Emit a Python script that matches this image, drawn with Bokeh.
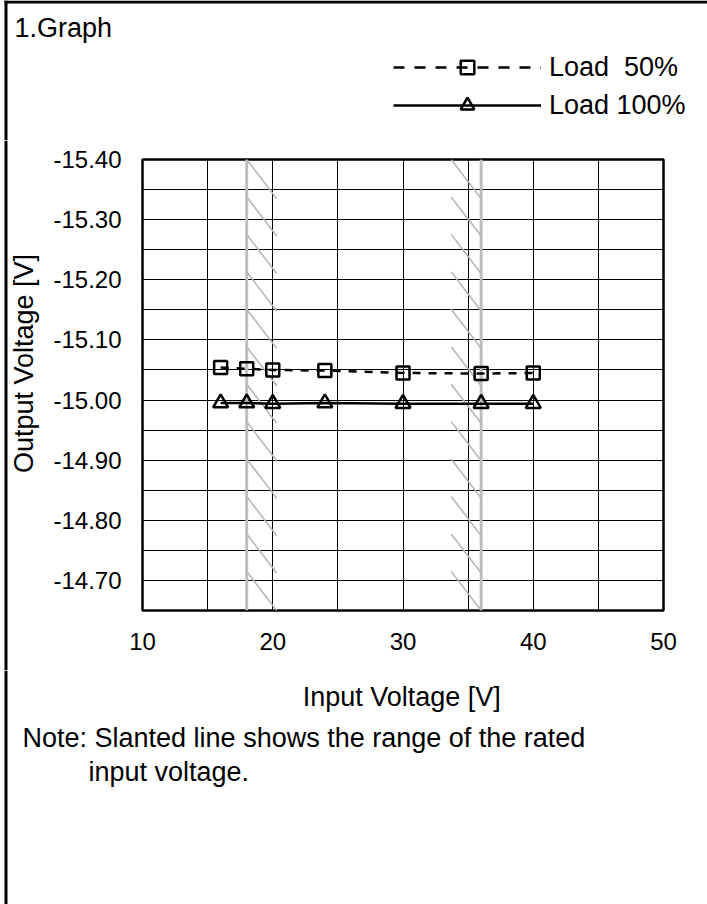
import math
from bokeh.plotting import figure
from bokeh.layouts import column, row
from bokeh.models import (Range1d, FixedTicker, Label, Legend, LegendItem,
                          BoxAnnotation, PrintfTickFormatter)
from bokeh.embed import file_html
from bokeh.resources import INLINE

# ---------------- data ----------------
input_voltage = [16, 18, 20, 24, 30, 36, 40]
load_50 = [-15.054, -15.052, -15.050, -15.049, -15.045, -15.044, -15.045]
load_100 = [-14.995, -14.995, -14.994, -14.995, -14.994, -14.994, -14.994]
x_ticks = [10, 20, 30, 40, 50]
x_grid = [10, 15, 20, 25, 30, 35, 40, 45, 50]
y_ticks = [-15.40, -15.30, -15.20, -15.10, -15.00, -14.90, -14.80, -14.70]
y_grid = [-15.40, -15.35, -15.30, -15.25, -15.20, -15.15, -15.10, -15.05,
          -15.00, -14.95, -14.90, -14.85, -14.80, -14.75, -14.70, -14.65]
rated_range = [18, 36]
series_labels = ["Load  50%", "Load 100%"]

# ---------------- layout constants ----------------
W, H = 707, 904
FONT = "Liberation Sans"
TXT = "27px"
TICK = "24px"
TOP_H = 140          # header band height
MID_H = 530          # band with the plot
BOT_H = H - TOP_H - MID_H
STRIP_W = 42         # left strip holding the y title
FL, FR, FT, FB = 142, 663, 159, 610   # plot frame in page pixels

LINE50 = dict(line_color="black", line_width=2.5, line_dash="8 8")
MARK50 = dict(marker="square", size=13, fill_alpha=0, line_color="black", line_width=2.5)
LINE100 = dict(line_color="black", line_width=2.5)
MARK100 = dict(marker="triangle", size=15, fill_alpha=0, line_color="black", line_width=2.5)


def blank(width, height):
    f = figure(width=width, height=height, output_backend="svg", toolbar_location=None,
               x_axis_location=None, y_axis_location=None, title=None,
               x_range=Range1d(0, 1), y_range=Range1d(0, 1),
               min_border=0, min_border_left=0, min_border_right=0,
               min_border_top=0, min_border_bottom=0)
    f.grid.grid_line_color = None
    f.outline_line_color = None
    f.background_fill_color = "white"
    f.border_fill_color = "white"
    f.frame_align = False
    return f


def box(f, left, right, top, bottom):
    f.add_layout(BoxAnnotation(left=left, right=right, top=top, bottom=bottom,
                               left_units="screen", right_units="screen",
                               top_units="screen", bottom_units="screen",
                               fill_color="black", fill_alpha=1, line_color=None))


def text(f, fx0, fy0, fh, txt, X, Y, align="left", angle=0.0, size=TXT):
    f.add_layout(Label(x=X - fx0, y=fh - (Y - fy0), x_units="screen", y_units="screen",
                       text=txt, text_font=FONT, text_font_size=size,
                       text_align=align, text_baseline="middle", angle=angle,
                       text_color="black"))


# ---------------- header ----------------
top = blank(W, TOP_H)
box(top, 4, 7, TOP_H, 0)
box(top, 4, W, TOP_H, TOP_H - 3)
text(top, 0, 0, TOP_H, "1.Graph", 14, 27)
# legend renderers reuse the series (outside this band's ranges, so only the legend shows)
t50l = top.line(input_voltage, load_50, line_color="black", line_width=2.5, line_dash="11 10")
t50m = top.scatter(input_voltage, load_50, **MARK50)
t100l = top.line(input_voltage, load_100, **LINE100)
t100m = top.scatter(input_voltage, load_100, **MARK100)
legend = Legend(items=[LegendItem(label=series_labels[0], renderers=[t50l, t50m]),
                       LegendItem(label=series_labels[1], renderers=[t100l, t100m])],
                location=(393, TOP_H - 122), orientation="vertical",
                glyph_width=148, glyph_height=34, spacing=4, padding=0, margin=0,
                label_standoff=8, border_line_color=None, background_fill_alpha=0,
                label_text_font=FONT, label_text_font_size=TXT,
                label_text_color="black")
top.add_layout(legend)

# ---------------- left strip ----------------
strip = blank(STRIP_W, MID_H)
box(strip, 4, 7, MID_H, 0)
text(strip, 0, TOP_H, MID_H, "Output Voltage [V]", 23, 363, align="center",
     angle=math.pi / 2)

# ---------------- main plot ----------------
p = figure(width=W - STRIP_W, height=MID_H, output_backend="svg", toolbar_location=None,
           title=None, x_range=Range1d(10, 50), y_range=Range1d(-14.65, -15.40),
           min_border_left=FL - STRIP_W, min_border_right=W - FR,
           min_border_top=FT - TOP_H, min_border_bottom=TOP_H + MID_H - FB)
p.frame_align = False
p.background_fill_color = "white"
p.border_fill_color = "white"
p.outline_line_color = "black"
p.outline_line_width = 2.5

p.xaxis.ticker = FixedTicker(ticks=x_ticks)
p.yaxis.ticker = FixedTicker(ticks=y_ticks)
p.yaxis.formatter = PrintfTickFormatter(format="%.2f")
for ax in (p.xaxis[0], p.yaxis[0]):
    ax.axis_line_color = None
    ax.major_tick_in = 0
    ax.major_tick_out = 0
    ax.minor_tick_in = 0
    ax.minor_tick_out = 0
    ax.major_label_text_font = FONT
    ax.major_label_text_font_size = TICK
    ax.major_label_text_color = "black"
p.xaxis.major_label_standoff = 22
p.yaxis.major_label_standoff = 21

p.xgrid.ticker = FixedTicker(ticks=x_grid)
p.ygrid.ticker = FixedTicker(ticks=y_grid)
for g in (p.xgrid[0], p.ygrid[0]):
    g.grid_line_color = "black"
    g.grid_line_width = 1
    g.grid_line_alpha = 1.0

# rated input range: gray verticals and slanted hatch
ytop, ybot = -15.40, -14.65
p.segment(x0=rated_range, y0=[ytop] * 2, x1=rated_range, y1=[ybot] * 2,
          line_color="#bdbdbd", line_width=3)
n_seg = 12
seg_h = 0.065
step = (ybot - ytop - seg_h) / (n_seg - 1)
seg_dx = 2.3
hx0, hy0, hx1, hy1 = [], [], [], []
for k in range(n_seg):
    ys = ytop + k * step
    for x0, x1 in ((rated_range[0], rated_range[0] + seg_dx),
                   (rated_range[1] - seg_dx, rated_range[1])):
        hx0.append(x0); hy0.append(ys); hx1.append(x1); hy1.append(ys + seg_h)
p.segment(x0=hx0, y0=hy0, x1=hx1, y1=hy1, line_color="#b4b4b4", line_width=1.5)

p.line(input_voltage, load_50, **LINE50)
p.scatter(input_voltage, load_50, **MARK50)
p.line(input_voltage, load_100, **LINE100)
p.scatter(input_voltage, load_100, **MARK100)

# ---------------- footer ----------------
bot = blank(W, BOT_H)
box(bot, 4, 7, BOT_H, 0)
fy0 = TOP_H + MID_H
text(bot, 0, fy0, BOT_H, "Input Voltage  [V]", 405, 696, align="center")
text(bot, 0, fy0, BOT_H, "Note: Slanted line shows the range of the rated", 22, 737)
text(bot, 0, fy0, BOT_H, "input voltage.", 88, 771)

layout = column(top, row(strip, p, spacing=0), bot, spacing=0)
open("out.html", "w").write(file_html(layout, INLINE))
